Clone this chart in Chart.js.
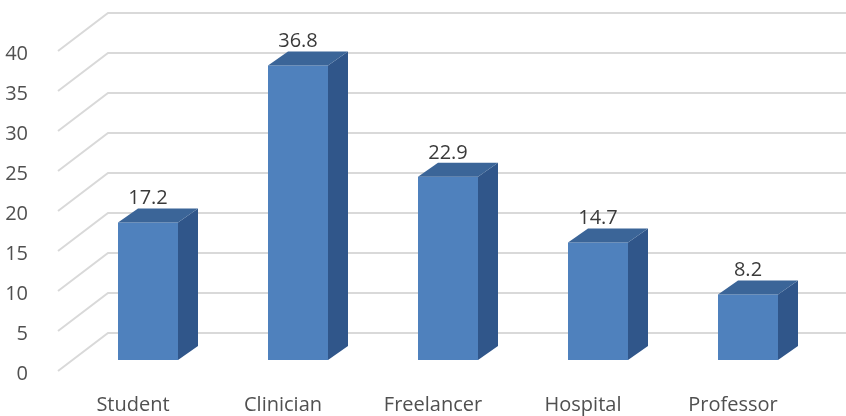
<!DOCTYPE html>
<html>
<head>
<meta charset="utf-8">
<script src="https://cdn.jsdelivr.net/npm/chart.js@4/dist/chart.umd.min.js"></script>
<style>
  html, body { margin: 0; padding: 0; background: #fff; }
  #wrap { width: 846px; height: 416px; }
</style>
</head>
<body>
<div id="wrap"><canvas id="myChart" width="846" height="416"></canvas></div>
<script>
const categories = ["Student", "Clinician", "Freelancer", "Hospital", "Professor"];
const shares = [17.2, 36.8, 22.9, 14.7, 8.2];
const yTicks = [0, 5, 10, 15, 20, 25, 30, 35, 40];

// depth of the bar boxes and of the floor (pixels)
const BAR_DX = 20, BAR_DY = -14;
const WALL_DX = 35, WALL_DY = -27;    // from bar front plane to back wall
const FRONT_DX = -15, FRONT_DY = 11;  // from bar front plane to front edge

const FONT = { family: "'Open Sans', sans-serif", size: 20 };

// back wall gridlines + floor diagonals, drawn under the bars
const grid3d = {
  id: 'grid3d',
  beforeDatasetsDraw(chart) {
    const ctx = chart.ctx;
    const y = chart.scales.y;
    const left = chart.chartArea.left;
    ctx.save();
    ctx.strokeStyle = '#d9d9d9';
    ctx.lineWidth = 2;
    yTicks.forEach(v => {
      const py = y.getPixelForValue(v);
      ctx.beginPath();
      ctx.moveTo(left + FRONT_DX, py + FRONT_DY);
      ctx.lineTo(left + WALL_DX, py + WALL_DY);
      ctx.lineTo(chart.width, py + WALL_DY);
      ctx.stroke();
    });
    ctx.restore();
  }
};

// top and side faces of each bar, plus the value labels
const box3d = {
  id: 'box3d',
  afterDatasetsDraw(chart) {
    const ctx = chart.ctx;
    const meta = chart.getDatasetMeta(0);
    ctx.save();
    meta.data.forEach((bar, i) => {
      const l = bar.x - bar.width / 2, r = bar.x + bar.width / 2;
      const t = bar.y, b = bar.base;
      ctx.fillStyle = '#30568a';
      ctx.beginPath();
      ctx.moveTo(r, t);
      ctx.lineTo(r + BAR_DX, t + BAR_DY);
      ctx.lineTo(r + BAR_DX, b + BAR_DY);
      ctx.lineTo(r, b);
      ctx.closePath();
      ctx.fill();
      ctx.fillStyle = '#3b6598';
      ctx.beginPath();
      ctx.moveTo(l, t);
      ctx.lineTo(l + BAR_DX, t + BAR_DY);
      ctx.lineTo(r + BAR_DX, t + BAR_DY);
      ctx.lineTo(r, t);
      ctx.closePath();
      ctx.fill();

      ctx.fillStyle = '#3a3a3a';
      ctx.font = FONT.size + 'px ' + FONT.family;
      ctx.textAlign = 'center';
      ctx.textBaseline = 'middle';
      ctx.fillText(String(shares[i]), bar.x, t - 24);
    });
    ctx.restore();
  }
};

new Chart(document.getElementById('myChart').getContext('2d'), {
  type: 'bar',
  data: {
    labels: categories,
    datasets: [{
      data: shares,
      backgroundColor: '#4f81bd',
      borderWidth: 0,
      categoryPercentage: 1,
      barPercentage: 0.4
    }]
  },
  options: {
    responsive: false,
    animation: false,
    layout: { padding: { top: 40, right: 23, left: 0, bottom: 0 } },
    plugins: { legend: { display: false }, tooltip: { enabled: false } },
    scales: {
      x: {
        grid: { display: false },
        border: { display: false },
        ticks: { color: '#505050', font: FONT, padding: 25, labelOffset: FRONT_DX, maxRotation: 0 },
        afterFit(scale) {
          scale.height = 56;
          scale.paddingLeft = 0;
          scale.paddingRight = 0;
        }
      },
      y: {
        min: 0,
        max: 40,
        grid: { display: false },
        border: { display: false },
        ticks: { stepSize: 5, color: '#505050', font: FONT, padding: 37, labelOffset: 14 },
        afterFit(scale) {
          scale.width = 73;
          scale.paddingTop = 0;
          scale.paddingBottom = 0;
        }
      }
    }
  },
  plugins: [grid3d, box3d]
});
</script>
</body>
</html>
